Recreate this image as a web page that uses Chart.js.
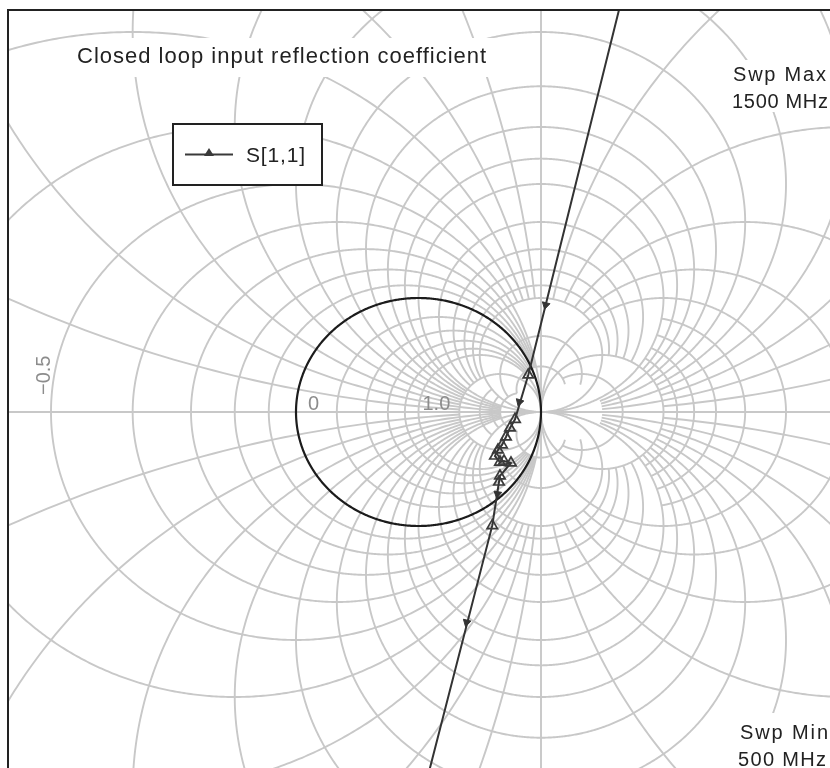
<!DOCTYPE html>
<html><head><meta charset="utf-8">
<script src="https://cdn.jsdelivr.net/npm/chart.js@4.4.0/dist/chart.umd.min.js"></script>
<style>html,body{margin:0;padding:0;background:#fff;}canvas{display:block;}</style>
</head><body>
<canvas id="c" width="830" height="768"></canvas>
<script>
// ---------------- data (reflection coefficient, real / imaginary) ----------------
const seriesName = 'S[1,1]';
const s11Re = [2.164, 0.896, 0.788, 0.747, 0.714, 0.682, 0.649, 0.624, 0.665, 0.698, 0.755, 0.665, 0.657, 0.602, -0.498];
const s11Im = [5.807, 0.325, -0.064, -0.140, -0.219, -0.289, -0.333, -0.386, -0.439, -0.430, -0.447, -0.561, -0.614, -0.997, -5.596];
const arrowRe = [1.038, 0.824, 0.645, 0.393];
const arrowIm = [0.939, 0.088, -0.719, -1.845];
const arrowAngle = [194, 197, 189, 194];

// Smith grid values
const rCoarse = [0, 1, 2, -0.5, -1, -2, -3];
const rMedium = [0.2, 0.4, 0.6, 0.8, 5, -0.1, -0.2, -0.3, -0.4, -4];
const rFine = [-0.6, -0.7, -0.8, -0.9, -1.2, -1.4, -1.6, -1.8, 3, 4];
const rNear = [-2.2, -2.4, -2.6, -2.8];
const xCoarse = [1, 2];
const xMedium = [0.2, 0.4, 0.6, 0.8, 3, 5];
const xFine = [0.1, 0.3, 0.5, 0.7, 0.9, 1.2, 1.4, 1.6, 1.8];
const gridLabels = [
  {text: '0', r: 0},
  {text: '1.0', r: 1},
  {text: '\u22120.5', r: -0.5}
];
const titleText = 'Closed loop input reflection coefficient';
const swpMaxText = ['Swp Max', '1500 MHz'];
const swpMinText = ['Swp Min', '500 MHz'];

// ---------------- helpers ----------------
const FONT = '"Liberation Sans", Arial, sans-serif';
function rArc(r, X, N) {            // constant resistance circle, |x| <= X
  const a = 1 + r, pts = [];
  const m = isFinite(X) ? Math.atan(X / Math.abs(a)) : Math.PI / 2 - 1e-5;
  for (let i = 0; i <= N; i++) {
    const al = -m + 2 * m * i / N;
    pts.push([r / a - Math.cos(2 * al) / a, Math.sin(2 * al) / a]);
  }
  return pts;
}
function xArc(x, R1, R2, N) {       // constant reactance circle, R1 <= r <= R2
  const g1 = isFinite(R1) ? Math.atan((R1 + 1) / x) : -Math.sign(x) * (Math.PI / 2 - 1e-5);
  const g2 = isFinite(R2) ? Math.atan((R2 + 1) / x) : Math.sign(x) * (Math.PI / 2 - 1e-5);
  const pts = [];
  for (let i = 0; i <= N; i++) {
    const g = g1 + (g2 - g1) * i / N;
    pts.push([1 - Math.sin(2 * g) / x, 1 / x + Math.cos(2 * g) / x]);
  }
  return pts;
}

const smithGrid = {
  id: 'smithGrid',
  beforeDatasetsDraw(chart) {
    const {ctx, chartArea: A, scales: {x: xs, y: ys}} = chart;
    const stroke = pts => {
      ctx.beginPath();
      pts.forEach((p, i) => {
        const px = xs.getPixelForValue(p[0]), py = ys.getPixelForValue(p[1]);
        i ? ctx.lineTo(px, py) : ctx.moveTo(px, py);
      });
      ctx.stroke();
    };
    ctx.save();
    ctx.beginPath(); ctx.rect(A.left, A.top, A.right - A.left, A.bottom - A.top); ctx.clip();
    ctx.strokeStyle = '#c8c8c8'; ctx.lineWidth = 1.9; ctx.lineJoin = 'round';
    stroke([[xs.min, 0], [xs.max, 0]]);
    const drawR = (r, X) => {
      if (r === -1) {
        const lim = isFinite(X) ? 2 / X : 0;
        stroke([[1, ys.max], [1, lim]]); stroke([[1, -lim], [1, ys.min]]);
      } else if (r !== 0) stroke(rArc(r, X, 720));
    };
    rCoarse.forEach(r => drawR(r, Infinity));
    rMedium.forEach(r => drawR(r, 5));
    rFine.forEach(r => drawR(r, 2));
    rNear.forEach(r => drawR(r, 1));
    const drawX = (x, R1, R2) => { stroke(xArc(x, R1, R2, 720)); stroke(xArc(-x, R1, R2, 720)); };
    xCoarse.forEach(x => drawX(x, -Infinity, Infinity));
    xMedium.forEach(x => drawX(x, -5, 5));
    xFine.forEach(x => drawX(x, -3, 2));
    ctx.strokeStyle = '#1c1c1c'; ctx.lineWidth = 2.2;
    stroke(rArc(0, Infinity, 720));
    ctx.fillStyle = '#8c8c8c'; ctx.font = '20px ' + FONT; ctx.textBaseline = 'alphabetic';
    gridLabels.forEach(l => {
      const left = xs.getPixelForValue((l.r - 1) / (l.r + 1)), y0 = ys.getPixelForValue(0);
      if (l.r >= 0) {
        ctx.fillText(l.text, left + (l.r === 0 ? 12 : 4), y0 - 2);
      } else {
        ctx.save(); ctx.translate(left - 1, y0 - 17); ctx.rotate(-Math.PI / 2);
        ctx.fillText(l.text, 0, 0); ctx.restore();
      }
    });
    ctx.restore();
  },
  afterDraw(chart) {
    const {ctx, chartArea: A} = chart;
    ctx.save();
    ctx.strokeStyle = '#222'; ctx.lineWidth = 2;
    ctx.beginPath(); ctx.moveTo(A.left, A.bottom); ctx.lineTo(A.left, A.top); ctx.lineTo(A.right, A.top); ctx.stroke();
    const fitText = (t, x, y, w) => {
      ctx.letterSpacing = '0px';
      const m = ctx.measureText(t).width;
      ctx.letterSpacing = ((w - m) / (t.length - 1)).toFixed(2) + 'px';
      ctx.fillText(t, x, y);
      ctx.letterSpacing = '0px';
    };
    ctx.fillStyle = '#fff'; ctx.fillRect(67, 38, 428, 39);
    ctx.fillStyle = '#222'; ctx.font = '22px ' + FONT;
    fitText(titleText, 77, 63, 409);
    ctx.fillStyle = '#fff'; ctx.fillRect(728, 60, 102, 52); ctx.fillRect(735, 713, 95, 55);
    ctx.fillStyle = '#222'; ctx.font = '20px ' + FONT;
    fitText(swpMaxText[0], 733, 81, 93);
    fitText(swpMaxText[1], 732, 108, 96);
    fitText(swpMinText[0], 740, 739, 88);
    fitText(swpMinText[1], 738, 766, 88);
    ctx.fillStyle = '#fff'; ctx.fillRect(173, 124, 149, 61);
    ctx.strokeStyle = '#222'; ctx.lineWidth = 2; ctx.strokeRect(173, 124, 149, 61);
    ctx.strokeStyle = '#3a3a3a'; ctx.lineWidth = 2;
    ctx.beginPath(); ctx.moveTo(185, 154.5); ctx.lineTo(233, 154.5); ctx.stroke();
    ctx.fillStyle = '#3a3a3a';
    ctx.beginPath(); ctx.moveTo(209, 148); ctx.lineTo(214, 156); ctx.lineTo(204, 156); ctx.closePath(); ctx.fill();
    ctx.fillStyle = '#222'; ctx.font = '21px ' + FONT;
    fitText(seriesName, 246, 162, 59);
    ctx.restore();
  }
};

const xMinV = -(418.5 - 8) / 122.5, xMaxV = xMinV + 822 / 122.5;
const yMaxV = (412 - 10) / 114, yMinV = yMaxV - 758 / 114;

new Chart(document.getElementById('c'), {
  type: 'scatter',
  data: {
    datasets: [
      {
        label: seriesName,
        data: s11Re.map((v, i) => ({x: v, y: s11Im[i]})),
        showLine: true,
        borderColor: '#333',
        borderWidth: 2,
        pointStyle: 'triangle',
        pointRadius: 6,
        pointBorderWidth: 1.7,
        pointBorderColor: '#3a3a3a',
        pointBackgroundColor: 'rgba(255,255,255,0)'
      },
      {
        label: 'direction',
        data: arrowRe.map((v, i) => ({x: v, y: arrowIm[i]})),
        showLine: false,
        pointStyle: 'triangle',
        pointRadius: 4.5,
        pointRotation: arrowAngle,
        pointBorderWidth: 1,
        pointBorderColor: '#333',
        pointBackgroundColor: '#333'
      }
    ]
  },
  options: {
    responsive: false,
    animation: false,
    layout: {autoPadding: false, padding: {left: 8, top: 10, right: 0, bottom: 0}},
    plugins: {legend: {display: false}, tooltip: {enabled: false}, title: {display: false}},
    scales: {
      x: {type: 'linear', display: false, min: xMinV, max: xMaxV},
      y: {type: 'linear', display: false, min: yMinV, max: yMaxV}
    }
  },
  plugins: [smithGrid]
});
</script>
</body></html>
